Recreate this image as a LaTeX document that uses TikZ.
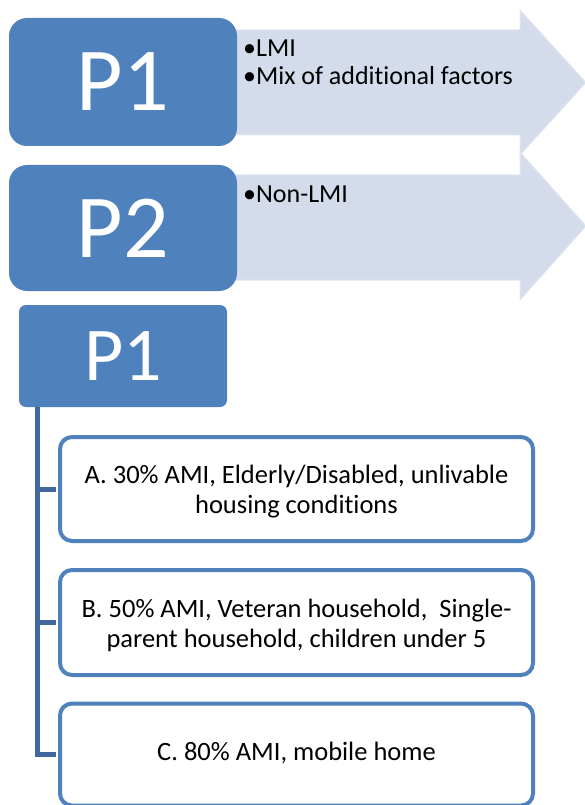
\documentclass[tikz,border=0pt]{standalone}
\usepackage{fontspec}
\setmainfont{Carlito}[Ligatures=NoCommon]
\definecolor{accent}{RGB}{79,129,189}
\definecolor{stemc}{RGB}{65,104,158}
\definecolor{arrowfill}{RGB}{212,220,235}
\definecolor{arrowedge}{RGB}{225,231,241}
\begin{document}
\begin{tikzpicture}[x=1pt,y=-1pt,
  pbox/.style={fill=accent, text=white, inner sep=0pt, font=\fontsize{90}{90}\selectfont},
  bullettext/.style={anchor=base west, inner sep=0pt, font=\fontsize{26}{28}\selectfont},
  itembox/.style={draw=accent, line width=4pt, fill=white, rounded corners=12pt,
    minimum width=473pt, inner sep=0pt, align=center, font=\fontsize{26.5}{30}\selectfont},
  itemtext/.style={align=center, inner sep=0pt, font=\fontsize{26.5}{30}\selectfont},
  tree/.style={draw=stemc, line width=5pt},
  bigarrow/.style={fill=arrowfill, draw=arrowedge, line width=1pt}]
\useasboundingbox (0,0) rectangle (584,805);

% block arrows
\path[bigarrow] (200,175) -- (520,175) -- (520,152) -- (586,226) -- (520,300) -- (520,280) -- (200,280) -- cycle;
\path[bigarrow] (200,30) -- (520,30) -- (520,10) -- (586,82.5) -- (520,155) -- (520,135) -- (200,135) -- cycle;

% P boxes
\node[pbox, rounded corners=18pt, minimum width=228pt, minimum height=128pt] (p1) at (123,82) {P1};
\node[pbox, rounded corners=18pt, minimum width=228pt, minimum height=126pt] (p2) at (123,228) {P2};
\node[pbox, rounded corners=7pt, minimum width=208pt, minimum height=102pt, font=\fontsize{76}{76}\selectfont] (p1c) at (123,356) {P1};

% bullet texts
\node[bullettext] (lmi) at (243,57) {\textbullet LMI};
\node[bullettext] (mix) at (243,85) {\textbullet Mix of additional factors};
\node[bullettext] (nonlmi) at (243,202) {\textbullet Non-LMI};

% item boxes
\node[itembox, minimum height=104pt] (a) at (296.5,489) {};
\node[itemtext] (ta) at (296.5,492) {A. 30\% AMI, Elderly/Disabled, unlivable\\housing conditions};
\node[itembox, minimum height=105pt] (b) at (296.5,622.5) {};
\node[itemtext] (tb) at (296.5,625) {B. 50\% AMI, Veteran household,\ \ Single-\\parent household, children under 5};
\node[itembox, minimum height=102pt] (c) at (296.5,754.5) {};
\node[itemtext] (tc) at (296.5,753) {C. 80\% AMI, mobile home};

% tree connectors
\coordinate (stem) at ([xshift=19pt]p1c.south west);
\draw[tree] (stem) |- ([xshift=-2pt]a.west);
\draw[tree] (stem) |- ([xshift=-2pt]b.west);
\draw[tree] (stem) |- ([xshift=-2pt]c.west);
\end{tikzpicture}
\end{document}
